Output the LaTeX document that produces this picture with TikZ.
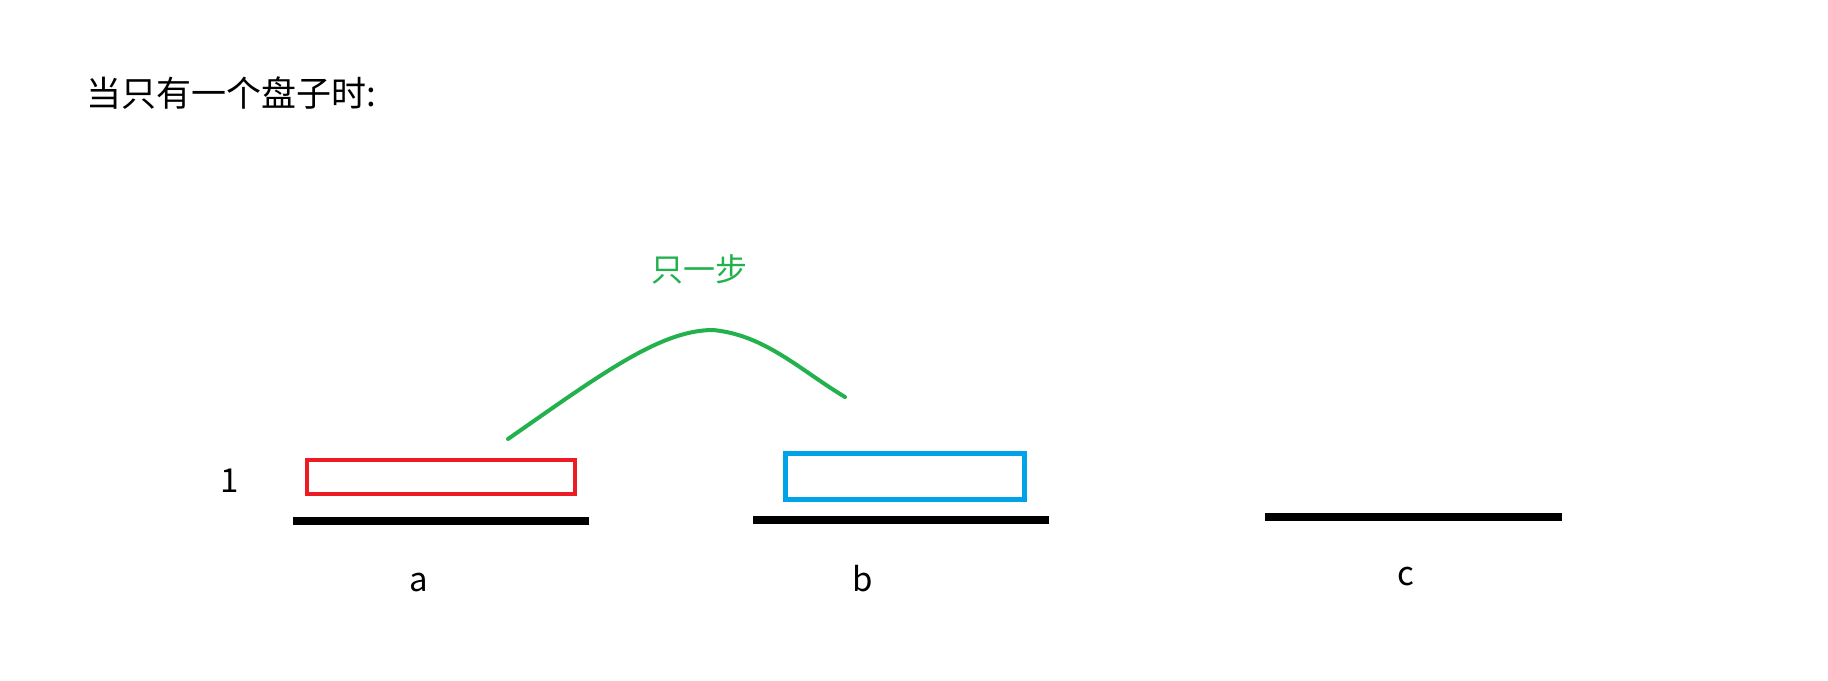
\documentclass[tikz,border=0pt]{standalone}
\usepackage{fontspec}
\setmainfont{Noto Sans CJK SC}
\definecolor{pred}{RGB}{237,28,36}
\definecolor{pblue}{RGB}{0,162,232}
\definecolor{pgreen}{RGB}{34,177,76}
\begin{document}
\begin{tikzpicture}[x=1pt,y=-1pt,
  peg/.style={line width=8pt,black},
  disk/.style={line width=4.5pt},
  lbl/.style={font=\fontsize{33}{36}\selectfont,inner sep=0pt}]
\useasboundingbox[fill=white] (0,0) rectangle (1828,680);
\node[anchor=west,inner sep=0pt,font=\fontsize{35}{40}\selectfont] (title) at (86,93) {当只有一个盘子时:};
% pegs
\draw[peg] (293,521) coordinate (a1) -- (589,521) coordinate (a2);
\draw[peg] (753,520) coordinate (b1) -- (1049,520) coordinate (b2);
\draw[peg] (1265,517) coordinate (c1) -- (1562,517) coordinate (c2);
% disks
\draw[disk,pred] (307,460) rectangle (575,494);
\draw[disk,pblue] (785.5,453.5) rectangle (1024.5,499.5);
% labels
\node[lbl] (one) at (230,481) {1};
\node[lbl] (la) at (419,583) {a};
\node[lbl] (lb) at (863,579) {b};
\node[lbl] (lc) at (1406,577) {c};
% move arc
\coordinate (s) at (508,439);
\coordinate (p) at (713,330);
\coordinate (e) at (845,397);
\draw[pgreen,line width=4pt,line cap=round] (s) .. controls (600,375) and (660,330) .. (p) .. controls (765,335) and (800,370) .. (e);
\node[font=\fontsize{32}{36}\selectfont,text=pgreen,inner sep=0pt] (step1) at (699,269) {只一步};
\end{tikzpicture}
\end{document}
